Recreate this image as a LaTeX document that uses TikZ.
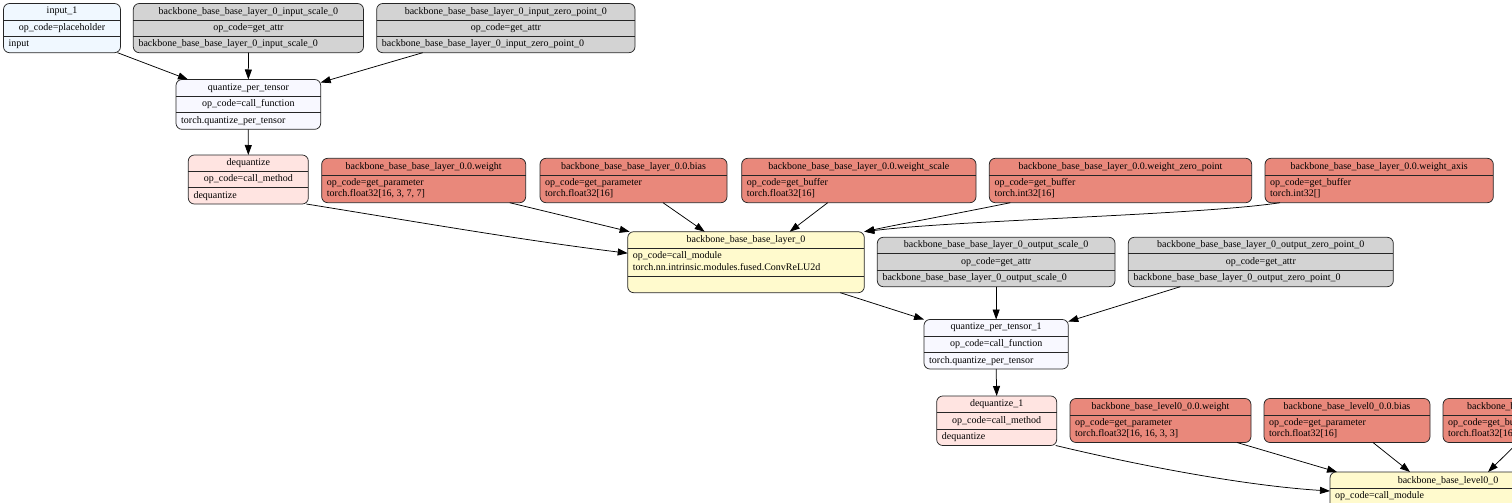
\documentclass[tikz,border=0pt]{standalone}
\usepackage{fontspec}
\setmainfont{Liberation Serif}
\usetikzlibrary{arrows.meta,fit}
\definecolor{cAlice}{HTML}{F0F8FF}
\definecolor{cGray}{HTML}{D3D3D3}
\definecolor{cGhost}{HTML}{F8F8FF}
\definecolor{cMisty}{HTML}{FFE4E1}
\definecolor{cSalmon}{HTML}{E9887B}
\definecolor{cLemon}{HTML}{FFFACD}
\tikzset{
  gvbox/.style={draw=black!85, line width=0.75pt, rounded corners=6pt, inner sep=0pt, outer sep=0pt},
  gvsep/.style={draw=black!85, line width=0.75pt},
  gvtxt/.style={inner sep=0pt, font=\fontsize{10}{12}\selectfont},
  gvedge/.style={draw=black, line width=0.75pt, -{Triangle[length=10pt,width=7pt]}},
}
% three-row record: name, x1, y1, x2, y2, fill, header, middle, bottom
\newcommand{\gvthree}[9]{%
  \node[gvbox, fill=#6, fit={(#2,#3) (#4,#5)}] (#1) {};
  \draw[gvsep] (#2,{#3+(#5-#3)/3}) -- (#4,{#3+(#5-#3)/3});
  \draw[gvsep] (#2,{#3+2*(#5-#3)/3}) -- (#4,{#3+2*(#5-#3)/3});
  \node[gvtxt] (#1-h) at ({(#2+#4)/2},{#3+(#5-#3)/6}) {#7};
  \node[gvtxt] (#1-m) at ({(#2+#4)/2},{#3+(#5-#3)/2}) {#8};
  \node[gvtxt, anchor=west] (#1-b) at ({#2+5},{#3+5*(#5-#3)/6}) {#9};
}
% two-part record: header + two left-aligned lines
\newcommand{\gvtwo}[9]{%
  \node[gvbox, fill=#6, fit={(#2,#3) (#4,#5)}] (#1) {};
  \draw[gvsep] (#2,{#3+16.7}) -- (#4,{#3+16.7});
  \node[gvtxt] (#1-h) at ({(#2+#4)/2},{#3+8.6}) {#7};
  \node[gvtxt, anchor=west] (#1-a) at ({#2+5},{#3+25}) {#8};
  \node[gvtxt, anchor=west] (#1-b) at ({#2+5},{#3+35.3}) {#9};
}
% module record: header + two lines + empty row
\newcommand{\gvmod}[9]{%
  \node[gvbox, fill=#6, fit={(#2,#3) (#4,#5)}] (#1) {};
  \draw[gvsep] (#2,{#3+16.6}) -- (#4,{#3+16.6});
  \draw[gvsep] (#2,{#3+44.3}) -- (#4,{#3+44.3});
  \node[gvtxt] (#1-h) at ({(#2+#4)/2},{#3+8.5}) {#7};
  \node[gvtxt, anchor=west] (#1-a) at ({#2+5},{#3+24.5}) {#8};
  \node[gvtxt, anchor=west] (#1-b) at ({#2+5},{#3+35.7}) {#9};
}
\begin{document}
\begin{tikzpicture}
\begin{scope}[x=1pt,y=-1pt]
\useasboundingbox (0,0) rectangle (1512,503);
\clip (0,0) rectangle (1512,503);

\gvthree{in1}{3.5}{3.5}{120.5}{52.7}{cAlice}{input\_1}{op\_code=placeholder}{input}
\gvthree{isc}{133.3}{3.5}{363.5}{52.7}{cGray}{backbone\_base\_base\_layer\_0\_input\_scale\_0}{op\_code=get\_attr}{backbone\_base\_base\_layer\_0\_input\_scale\_0}
\gvthree{izp}{376.7}{3.5}{635}{52.7}{cGray}{backbone\_base\_base\_layer\_0\_input\_zero\_point\_0}{op\_code=get\_attr}{backbone\_base\_base\_layer\_0\_input\_zero\_point\_0}
\gvthree{qpt}{176}{79.5}{320.7}{129.3}{cGhost}{quantize\_per\_tensor}{op\_code=call\_function}{torch.quantize\_per\_tensor}
\gvthree{deq}{188.3}{155}{308.3}{204}{cMisty}{dequantize}{op\_code=call\_method}{dequantize}

\gvtwo{w}{321.7}{158.3}{525.7}{202.7}{cSalmon}{backbone\_base\_base\_layer\_0.0.weight}{op\_code=get\_parameter}{torch.float32[16, 3, 7, 7]}
\gvtwo{b}{540}{158.3}{727}{202.7}{cSalmon}{backbone\_base\_base\_layer\_0.0.bias}{op\_code=get\_parameter}{torch.float32[16]}
\gvtwo{ws}{741.7}{158.3}{976}{202.7}{cSalmon}{backbone\_base\_base\_layer\_0.0.weight\_scale}{op\_code=get\_buffer}{torch.float32[16]}
\gvtwo{wzp}{989.3}{158.3}{1251.7}{202.7}{cSalmon}{backbone\_base\_base\_layer\_0.0.weight\_zero\_point}{op\_code=get\_buffer}{torch.int32[16]}
\gvtwo{wa}{1265}{158.3}{1493.3}{202.7}{cSalmon}{backbone\_base\_base\_layer\_0.0.weight\_axis}{op\_code=get\_buffer}{torch.int32[]}

\gvmod{l0}{627.7}{231.7}{864.3}{292.7}{cLemon}{backbone\_base\_base\_layer\_0}{op\_code=call\_module}{torch.nn.intrinsic.modules.fused.ConvReLU2d}
\gvthree{os}{877.3}{237.3}{1115}{286.7}{cGray}{backbone\_base\_base\_layer\_0\_output\_scale\_0}{op\_code=get\_attr}{backbone\_base\_base\_layer\_0\_output\_scale\_0}
\gvthree{ozp}{1128.3}{237.3}{1393.3}{286.7}{cGray}{backbone\_base\_base\_layer\_0\_output\_zero\_point\_0}{op\_code=get\_attr}{backbone\_base\_base\_layer\_0\_output\_zero\_point\_0}

\gvthree{qpt1}{924}{319.5}{1068.3}{369}{cGhost}{quantize\_per\_tensor\_1}{op\_code=call\_function}{torch.quantize\_per\_tensor}
\gvthree{deq1}{936.7}{396}{1056.7}{445.5}{cMisty}{dequantize\_1}{op\_code=call\_method}{dequantize}

\gvtwo{lw}{1070}{398.5}{1251}{442.5}{cSalmon}{backbone\_base\_level0\_0.0.weight}{op\_code=get\_parameter}{torch.float32[16, 16, 3, 3]}
\gvtwo{lb}{1264}{398.5}{1430}{442.5}{cSalmon}{backbone\_base\_level0\_0.0.bias}{op\_code=get\_parameter}{torch.float32[16]}
\gvtwo{lws}{1443}{398.5}{1654}{442.5}{cSalmon}{backbone\_base\_level0\_0.0.weight\_scale}{op\_code=get\_buffer}{torch.float32[16]}
\gvmod{l00}{1330}{472}{1566}{533}{cLemon}{backbone\_base\_level0\_0}{op\_code=call\_module}{}

% edges
\draw[gvedge] ([xshift=-3pt]in1.south east) -- ([xshift=12pt]qpt.north west);
\draw[gvedge] (isc.south) -- (qpt.north);
\draw[gvedge] ([xshift=46pt]izp.south west) -- ([yshift=-3pt]qpt.north east);
\draw[gvedge] (qpt.south) -- (deq.north);
\draw[gvedge] ([xshift=-2pt]deq.south east) .. controls (400,219) and (520,240) .. ([yshift=9pt]l0.west);
\draw[gvedge] ([xshift=-16pt]w.south east) -- ([xshift=2pt]l0.north west);
\draw[gvedge] ([xshift=-64pt]b.south east) -- ([xshift=77pt]l0.north west);
\draw[gvedge] ([xshift=86pt]ws.south west) -- ([xshift=162pt]l0.north west);
\draw[gvedge] ([xshift=21pt]wzp.south west) .. controls (960,213) and (900,224) .. (l0.north east);
\draw[gvedge] ([xshift=15pt]wa.south west) .. controls (1200,215) and (960,220) .. (l0.north east);
\draw[gvedge] ([xshift=-24pt]l0.south east) -- (qpt1.north west);
\draw[gvedge] (os.south) -- (qpt1.north);
\draw[gvedge] ([xshift=52pt]ozp.south west) -- ([yshift=-2pt]qpt1.north east);
\draw[gvedge] (qpt1.south) -- (deq1.north);
\draw[gvedge] ([xshift=-1pt]deq1.south east) .. controls (1150,468) and (1250,486) .. ([yshift=-19pt]l00.north west);
\draw[gvedge] ([xshift=-14pt]lw.south east) -- ([xshift=7pt]l00.north west);
\draw[gvedge] ([xshift=109pt]lb.south west) -- ([xshift=80pt]l00.north west);
\draw[gvedge] ([xshift=75pt]lws.south west) -- ([xshift=158pt]l00.north west);
\end{scope}
\end{tikzpicture}
\end{document}
